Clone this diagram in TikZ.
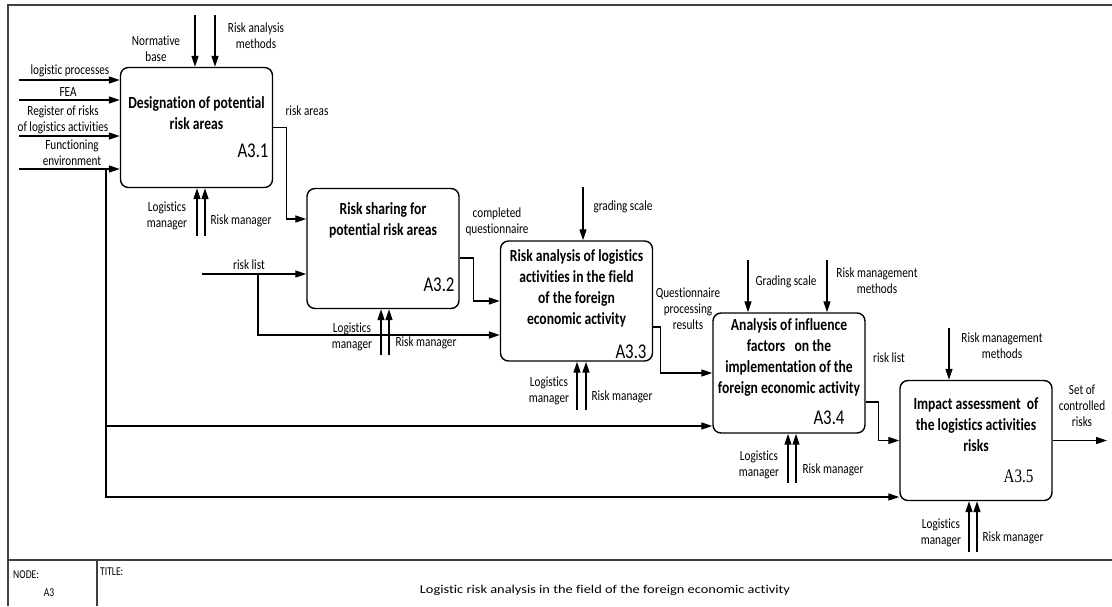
\documentclass[tikz,border=0pt]{standalone}
\usepackage{fontspec}
\setmainfont{Carlito}[FakeStretch=0.8, Ligatures=NoCommon]
\newfontfamily\idserif{Liberation Serif}[FakeStretch=0.8]
\newfontfamily\titlefont{Carlito}[FakeStretch=1.2, Ligatures=NoCommon]
\usetikzlibrary{arrows.meta}
\usetikzlibrary{positioning}

\tikzset{
	procbox/.style={draw, rounded corners=8pt, line width=1.4pt,
		minimum width=152pt, minimum height=120pt, inner sep=0pt},
	boxtitle/.style={font=\fontsize{17}{21}\selectfont\bfseries, align=center, inner sep=0pt},
	boxid/.style={font=\fontsize{21}{24}\selectfont, inner sep=0pt, anchor=base east},
	lbl/.style={font=\fontsize{14}{16}\selectfont, align=center, inner sep=0pt},
	small/.style={font=\fontsize{12}{14}\selectfont, inner sep=0pt},
	frameline/.style={line width=1.6pt, black!75},
}

\begin{document}
\begin{tikzpicture}[x=1pt,y=-1pt]
	\useasboundingbox (0,0) rectangle (1112,606);

	% frame and title block
	\draw[frameline] (8,606) -- (8,5) -- (1112,5);
	\draw[frameline] (8,560) -- (1112,560);
	\draw[frameline] (97,560) -- (97,606);
	\node[small, anchor=west] (nodeLbl) at (13,575) {NODE:};
	\node[small] (nodeNum) at (49,593) {A3};
	\node[small, anchor=west] (titleLbl) at (100,572) {TITLE:};
	\node[font=\titlefont\fontsize{12}{14}\selectfont, inner sep=0pt] (titleTxt) at (605,590)
		{Logistic risk analysis in the field of the foreign economic activity};

	\begin{scope}[every node/.style={procbox}]
		\node (A31) at (196.5,127.5) {};
		\node (A32) at (383,248.5) {};
		\node (A33) at (576.5,301) {};
		\node (A34) at (789,373) {};
		\node (A35) at (976,440.5) {};
	\end{scope}

	\node[boxtitle, below=30pt of A31.north] (A31t) {Designation of potential\\risk areas};
	\node[boxtitle, below=15pt of A32.north] (A32t) {Risk sharing for\\potential risk areas};
	\node[boxtitle, below=9pt of A33.north] (A33t) {Risk analysis of logistics\\activities in the field\\of the foreign\\economic activity};
	\node[boxtitle, below=6pt of A34.north] (A34t) {Analysis of influence\\factors \ \ on the\\implementation of the\\foreign economic activity};
	\node[boxtitle, below=18pt of A35.north] (A35t) {Impact assessment \ of\\the logistics activities\\risks};

	\node[boxid] (A31id) at ([xshift=-4.5pt,yshift=30.5pt]A31.south east) {A3.1};
	\node[boxid] (A32id) at ([xshift=-5pt,yshift=17.5pt]A32.south east) {A3.2};
	\node[boxid] (A33id) at ([xshift=-6.5pt,yshift=3.5pt]A33.south east) {A3.3};
	\node[boxid] (A34id) at ([xshift=-21pt,yshift=9pt]A34.south east) {A3.4};
	\node[boxid, font=\idserif\fontsize{19}{22}\selectfont] (A35id) at ([xshift=-19pt,yshift=18.5pt]A35.south east) {A3.5};

	% free ends
	\coordinate (inLog) at (19,80);
	\coordinate (inFEA) at (19,100);
	\coordinate (inReg) at (19,136);
	\coordinate (inEnv) at (19,169);
	\coordinate (trunk) at (106,169);
	\coordinate (ctlNorm) at (195,15);
	\coordinate (ctlRam) at (215,15);
	\coordinate (mecLm1) at (197,236);
	\coordinate (mecRm1) at (205,236);
	\coordinate (inList) at (202,274);
	\coordinate (listFork) at (258,274);
	\coordinate (mecLm2) at (381,355);
	\coordinate (mecRm2) at (389,355);
	\coordinate (ctlGrad) at (583,187);
	\coordinate (mecLm3) at (577,410);
	\coordinate (mecRm3) at (586,410);
	\coordinate (ctlGrad4) at (748,260);
	\coordinate (ctlRmm4) at (827,260);
	\coordinate (mecLm4) at (788,483);
	\coordinate (mecRm4) at (796,483);
	\coordinate (ctlRmm5) at (949,328);
	\coordinate (mecLm5) at (969,552);
	\coordinate (mecRm5) at (977,552);
	\coordinate (outSet) at (1107,440.5);

	\begin{scope}[>={Triangle[length=11pt,width=7pt]}, line width=1.3pt]
		\draw[->] (inLog) -- (inLog -| A31.west);
		\draw[->] (inFEA) -- (inFEA -| A31.west);
		\draw[->] (inReg) -- (inReg -| A31.west);
		\draw[->] (inEnv) -- (inEnv -| A31.west);
		\draw[->] (trunk) |- (A34.west |- 0,426);
		\draw[->] (trunk) |- (A35.west |- 0,497);
		\draw[->] (ctlNorm) -- (ctlNorm |- A31.north);
		\draw[->] (ctlRam) -- (ctlRam |- A31.north);
		\draw[->] (mecLm1) -- (mecLm1 |- A31.south);
		\draw[->] (mecRm1) -- (mecRm1 |- A31.south);
		\draw[->] (A31.east) -- ++(13,0) |- ([yshift=29.5pt]A32.west);

		\draw[->] (inList) -- (inList -| A32.west);
		\draw[->] (listFork) |- (A33.west |- 0,335);
		\draw[->] (mecLm2) -- (mecLm2 |- A32.south);
		\draw[->] (mecRm2) -- (mecRm2 |- A32.south);
		\draw[->] ([yshift=-9.5pt]A32.east) -- ++(14,0) |- (A33.west);

		\draw[->] (ctlGrad) -- (ctlGrad |- A33.north);
		\draw[->] (mecLm3) -- (mecLm3 |- A33.south);
		\draw[->] (mecRm3) -- (mecRm3 |- A33.south);
		\draw[->] ([yshift=-26pt]A33.east) -- ++(7,0) |- (A34.west);

		\draw[->] (ctlGrad4) -- (ctlGrad4 |- A34.north);
		\draw[->] (ctlRmm4) -- (ctlRmm4 |- A34.north);
		\draw[->] (mecLm4) -- (mecLm4 |- A34.south);
		\draw[->] (mecRm4) -- (mecRm4 |- A34.south);
		\draw[->] ([yshift=-29pt]A34.east) -- ++(13,0) |- (A35.west);

		\draw[->] (ctlRmm5) -- (ctlRmm5 |- A35.north);
		\draw[->] (mecLm5) -- (mecLm5 |- A35.south);
		\draw[->] (mecRm5) -- (mecRm5 |- A35.south);
		\draw[->] (A35.east) -- (outSet);
	\end{scope}

	% labels
	\node[lbl] (lLog) at (70,71) {logistic processes};
	\node[lbl] (lFEA) at (68,92) {FEA};
	\node[lbl] (lReg) at (63,120) {Register of risks\\of logistics activities};
	\node[lbl] (lEnv) at (72,153) {Functioning\\environment};
	\node[lbl] (lNorm) at (156,49) {Normative\\base};
	\node[lbl] (lRam) at (256,36) {Risk analysis\\methods};
	\node[lbl] (lLm1) at (167,216) {Logistics\\manager};
	\node[lbl] (lRm1) at (241,221) {Risk manager};
	\node[lbl] (lAreas) at (307,111) {risk areas};
	\node[lbl] (lList) at (249,265) {risk list};
	\node[lbl] (lLm2) at (352,337) {Logistics\\manager};
	\node[lbl] (lRm2) at (426,343) {Risk manager};
	\node[lbl] (lQuest) at (497,222) {completed\\questionnaire};
	\node[lbl] (lGrad) at (623,207) {grading scale};
	\node[lbl] (lRes) at (688,309) {Questionnaire\\processing\\results};
	\node[lbl] (lLm3) at (549,391) {Logistics\\manager};
	\node[lbl] (lRm3) at (622,397) {Risk manager};
	\node[lbl] (lGrad4) at (786,282) {Grading scale};
	\node[lbl] (lRmm4) at (877,281) {Risk management\\methods};
	\node[lbl] (lList4) at (889,358) {risk list};
	\node[lbl] (lLm4) at (759,465) {Logistics\\manager};
	\node[lbl] (lRm4) at (833,470) {Risk manager};
	\node[lbl] (lRmm5) at (1002,346) {Risk management\\methods};
	\node[lbl] (lSet) at (1082,406) {Set of\\controlled\\risks};
	\node[lbl] (lLm5) at (941,533) {Logistics\\manager};
	\node[lbl] (lRm5) at (1013,538) {Risk manager};
\end{tikzpicture}
\end{document}
